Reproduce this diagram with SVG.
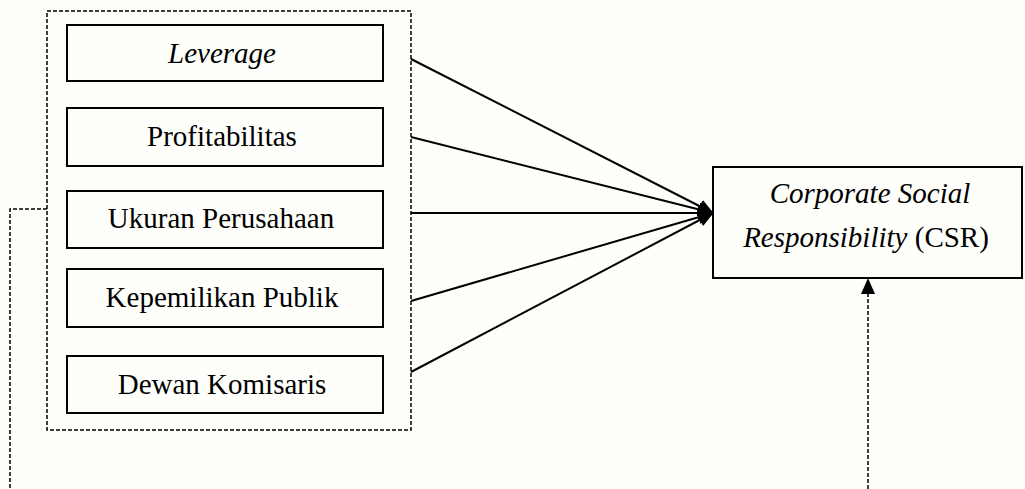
<svg xmlns="http://www.w3.org/2000/svg" width="1025" height="489" viewBox="0 0 1025 489">
<defs>
<style>
.box{fill:none;stroke:#000;stroke-width:2}
.dash{fill:none;stroke:#000;stroke-width:1.5;stroke-dasharray:4,2}
.line{stroke:#000;stroke-width:2;fill:none}
.t{font-family:"Liberation Serif","Times New Roman",serif;font-size:29px;fill:#000;text-anchor:middle}
.i{font-style:italic}
</style>
<marker id="ah" markerWidth="16" markerHeight="14" refX="15" refY="7" orient="auto" markerUnits="userSpaceOnUse">
<path d="M0,0 L16,7 L0,14 Z" fill="#000"/>
</marker>
</defs>
<rect width="1025" height="489" fill="#fefefb"/>
<g id="group-box">
<rect class="dash" x="47" y="11" width="364" height="419"/>
</g>
<g id="leverage">
<rect class="box" x="67" y="25" width="316" height="56"/>
<text class="t i" x="222" y="63">Leverage</text>
</g>
<g id="profitabilitas">
<rect class="box" x="67" y="108" width="316" height="58"/>
<text class="t" x="222" y="146">Profitabilitas</text>
</g>
<g id="ukuran">
<rect class="box" x="67" y="191" width="316" height="57"/>
<text class="t" x="221" y="228">Ukuran Perusahaan</text>
</g>
<g id="kepemilikan">
<rect class="box" x="67" y="269" width="316" height="58"/>
<text class="t" x="222" y="307">Kepemilikan Publik</text>
</g>
<g id="dewan">
<rect class="box" x="67" y="356" width="316" height="57"/>
<text class="t" x="222" y="394">Dewan Komisaris</text>
</g>
<g id="csr">
<rect class="box" x="713" y="167" width="309" height="111"/>
<text class="t" x="870" y="203"><tspan class="i">Corporate Social</tspan></text>
<text class="t" x="866" y="247"><tspan class="i">Responsibility</tspan> (CSR)</text>
</g>
<g id="connectors">
<line class="line" x1="411" y1="59" x2="713" y2="213" marker-end="url(#ah)"/>
<line class="line" x1="411" y1="137" x2="713" y2="213" marker-end="url(#ah)"/>
<line class="line" x1="411" y1="213" x2="713" y2="213" marker-end="url(#ah)"/>
<line class="line" x1="411" y1="301" x2="713" y2="213" marker-end="url(#ah)"/>
<line class="line" x1="411" y1="372" x2="713" y2="213" marker-end="url(#ah)"/>
<polyline class="dash" points="47,209 10,209 10,489"/>
<line class="dash" x1="868" y1="489" x2="868" y2="279" marker-end="url(#ah)"/>
</g>
</svg>
